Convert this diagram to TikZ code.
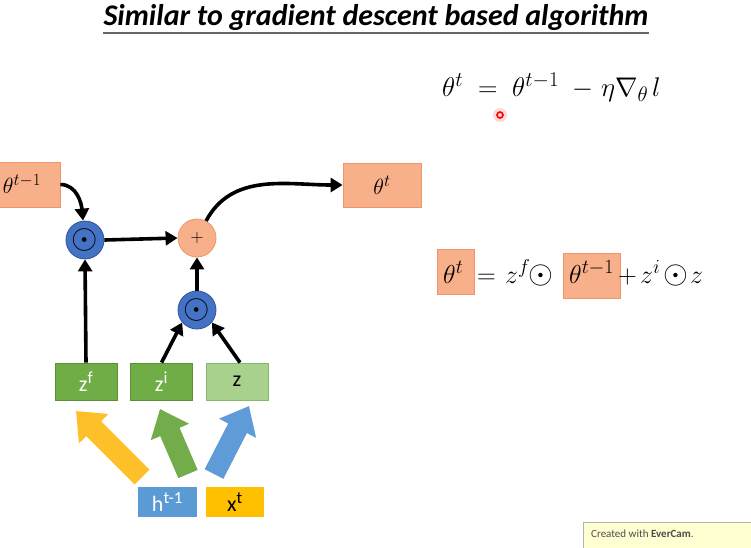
\RequirePackage{fix-cm}
\documentclass[tikz,border=0pt]{standalone}
\usepackage{fontspec}
\setmainfont{Carlito}
\usetikzlibrary{arrows.meta}
\DeclareMathSizes{27}{27}{21}{16}
\DeclareMathSizes{26}{26}{20}{15}
\DeclareMathSizes{22}{22}{17}{13}
\definecolor{orfill}{RGB}{248,176,138}
\definecolor{ordraw}{RGB}{240,150,105}
\definecolor{bluec}{RGB}{68,114,196}
\definecolor{blued}{RGB}{47,85,151}
\definecolor{gfill}{RGB}{112,173,71}
\definecolor{gdraw}{RGB}{90,145,55}
\definecolor{lgfill}{RGB}{169,209,142}
\definecolor{lgdraw}{RGB}{135,185,105}
\definecolor{hblue}{RGB}{91,155,213}
\definecolor{xyel}{RGB}{255,192,0}
\definecolor{ayel}{RGB}{253,192,40}
\definecolor{agreen}{RGB}{115,172,75}
\definecolor{ablue}{RGB}{95,155,215}
\definecolor{wmfill}{RGB}{255,255,210}
\begin{document}
\begin{tikzpicture}[x=1pt,y=-1pt,
  orbox/.style={draw=ordraw,fill=orfill,line width=0.8pt,inner sep=0pt},
  opcirc/.style={circle,draw=blued,fill=bluec,line width=0.8pt,minimum size=38pt,inner sep=0pt},
  pluscirc/.style={circle,draw=ordraw,fill=orfill,line width=0.8pt,minimum size=38pt,inner sep=0pt},
  gbox/.style={draw=gdraw,fill=gfill,line width=0.8pt,minimum width=62pt,minimum height=37pt,inner sep=0pt,text=white,font=\fontsize{22}{24}\selectfont},
  lgbox/.style={draw=lgdraw,fill=lgfill,line width=0.8pt,minimum width=62pt,minimum height=37pt,inner sep=0pt,text=black,font=\fontsize{22}{24}\selectfont},
  conn/.style={line width=3.6pt,-{Triangle[length=12pt,width=14pt]}},
  blockarr/.style={line width=21pt,-{Triangle[length=25pt,width=40pt]}},
  eqtxt/.style={inner sep=0pt,anchor=base west,font=\fontsize{26}{30}\selectfont},
  eqtop/.style={inner sep=0pt,anchor=base west,font=\fontsize{27}{30}\selectfont},
  bigop/.style={inner sep=0pt,anchor=base west,font=\fontsize{32}{36}\selectfont}
]
\useasboundingbox (0,0) rectangle (751,547);
\fill[white] (0,0) rectangle (751,547);

% title
\node[inner sep=0pt,font=\fontsize{30}{34}\selectfont\bfseries\itshape] (title) at (376,17) {Similar to gradient descent based algorithm};
\draw[line width=1.4pt,draw=black!60] (title.south west|-0,33) -- (title.south east|-0,33);

% top equation
\node[eqtop] (q1) at (442,96) {$\theta^{t}$};
\node[eqtop] (q2) at (478,96) {$=$};
\node[eqtop] (q3) at (512,96) {$\theta^{t-1}$};
\node[eqtop] (q4) at (572,96) {$-$};
\node[eqtop] (q5) at (601,96) {$\eta\nabla_{\theta}$};
\node[eqtop] (q6) at (652,96) {$l$};

% red pointer
\fill[red!25,opacity=0.6] (500,115) circle (7pt);
\draw[red,line width=1.6pt] (500,115) circle (3pt);

% diagram nodes
\node[orbox,minimum width=68pt,minimum height=45pt] (tprev) at (26,184.5) {};
\node[inner sep=0pt,font=\fontsize{22}{24}\selectfont] (tprevt) at (22,184) {$\theta^{t-1}$};
\node[orbox,minimum width=78pt,minimum height=44pt,font=\fontsize{22}{24}\selectfont] (tnew) at (382,185) {$\theta^{t}$};
\node[opcirc] (o1) at (85,240) {\fontsize{34}{34}\selectfont$\odot$};
\node[pluscirc] (plus) at (197,238) {\fontsize{18}{18}\selectfont$+$};
\node[opcirc] (o2) at (197,310) {\fontsize{34}{34}\selectfont$\odot$};

\node[gbox] (zf) at (86,381.5) {z\textsuperscript{f}};
\node[gbox] (zi) at (161.5,381.5) {z\textsuperscript{i}};
\node[lgbox] (z) at (237,381.5) {z};

\node[fill=hblue,minimum width=59pt,minimum height=30pt,inner sep=0pt,text=white,font=\fontsize{22}{24}\selectfont] (h) at (167.5,502) {h\textsuperscript{t-1}};
\node[fill=xyel,minimum width=58pt,minimum height=30pt,inner sep=0pt,text=black,font=\fontsize{22}{24}\selectfont] (x) at (235,502) {x\textsuperscript{t}};

% connectors
\draw[conn] (tprev.east) to[out=0,in=95] ([xshift=-2pt]o1.north);
\draw[conn] (o1.east) -- (plus.west);
\draw[conn] (plus.62) to[out=62,in=180] (tnew.west);
\draw[conn] (zf.north) -- (o1.south);
\draw[conn] (o2.north) -- (plus.south);
\draw[conn] (zi.north) -- (o2.220);
\draw[conn] ([xshift=3pt]z.north) -- (o2.320);

% block arrows
\coordinate (ya) at (142,477);
\coordinate (yb) at (76,411);
\coordinate (ga) at (188,474);
\coordinate (gb) at (160,409);
\coordinate (ba) at (214,474);
\coordinate (bb) at (249,406);
\draw[blockarr,draw=ayel] (ya) -- (yb);
\draw[blockarr,draw=agreen] (ga) -- (gb);
\draw[blockarr,draw=ablue] (ba) -- (bb);

% second equation
\node[orbox,minimum width=37pt,minimum height=45pt] (eb1) at (455.5,271.5) {};
\node[eqtxt] (e1) at (443,283) {$\theta^{t}$};
\node[eqtxt] (e2) at (477,283) {$=$};
\node[eqtxt] (e3) at (505,283) {$z^{f}$};
\node[bigop] (e4) at (528,283) {$\odot$};
\node[orbox,minimum width=57pt,minimum height=45pt] (eb2) at (591.5,275.5) {};
\node[eqtxt] (e5) at (569,283) {$\theta^{t-1}$};
\node[eqtxt] (e6) at (618,283) {$+$};
\node[eqtxt] (e7) at (640,283) {$z^{i}$};
\node[bigop] (e8) at (663,283) {$\odot$};
\node[eqtxt] (e9) at (690,283) {$z$};

% watermark
\node[draw=black!30,fill=wmfill,minimum width=172pt,minimum height=28pt,inner sep=0pt] (wm) at (669,536) {};
\node[anchor=west,inner sep=0pt,text=black!70,font=\fontsize{11}{13}\selectfont] (wmt) at (591,534) {Created with \textbf{EverCam}.};
\end{tikzpicture}
\end{document}
